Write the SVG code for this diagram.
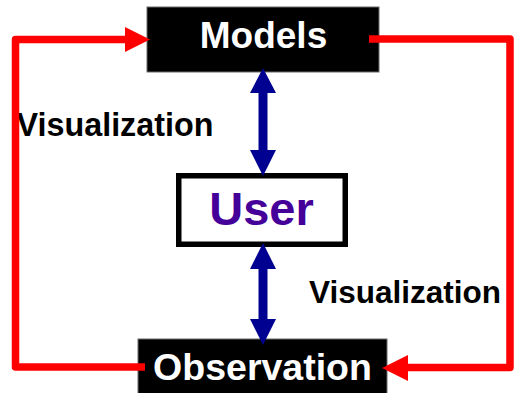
<svg xmlns="http://www.w3.org/2000/svg" width="514" height="393" viewBox="0 0 514 393">
  <style>
    .dark { fill: #000000; stroke: #6b6b6b; stroke-width: 1; }
    .label { font-family: "Liberation Sans", Arial, sans-serif; font-weight: bold; text-anchor: middle; }
    .white { fill: #ffffff; }
    .red { fill: none; stroke: #ff0000; stroke-width: 7.5; stroke-linejoin: round; }
    .redhead { fill: #ff0000; }
    .blue { fill: #000091; }
  </style>
  <rect width="514" height="393" fill="#ffffff"/>

  <g id="models">
    <rect class="dark" x="147" y="7" width="232" height="65"/>
    <text class="label white" x="263.5" y="48" font-size="37">Models</text>
  </g>

  <g id="user">
    <rect x="178.75" y="175.75" width="166.5" height="68.5" fill="#ffffff" stroke="#000000" stroke-width="5.5"/>
    <text class="label" x="261.5" y="225" font-size="47" fill="#440099">User</text>
  </g>

  <g id="observation">
    <rect class="dark" x="138" y="339" width="249" height="56"/>
    <text class="label white" x="262.5" y="380" font-size="37.5">Observation</text>
  </g>

  <g id="labels">
    <text class="label" x="115" y="136" font-size="32.3" fill="#000000">Visualization</text>
    <text class="label" x="405" y="303" font-size="31.5" fill="#000000">Visualization</text>
  </g>

  <g id="connectors">
    <!-- loop from Observation up to Models -->
    <path class="red" d="M145,367 H15.5 V39.5 H126"/>
    <polygon class="redhead" points="150,39.5 125,27 125,52"/>
    <!-- loop from Models down to Observation -->
    <path class="red" d="M369,39 H510 V367.5 H407"/>
    <polygon class="redhead" points="382,368 408,355 408,381"/>
    <!-- Models <-> User -->
    <rect class="blue" x="258.5" y="92" width="9" height="59"/>
    <polygon class="blue" points="263,68 276,93 250,93"/>
    <polygon class="blue" points="263,176 276,150 250,150"/>
    <!-- User <-> Observation -->
    <rect class="blue" x="258.5" y="268" width="9" height="52"/>
    <polygon class="blue" points="263,243 276,269 250,269"/>
    <polygon class="blue" points="263,345 276,319 250,319"/>
  </g>
</svg>
